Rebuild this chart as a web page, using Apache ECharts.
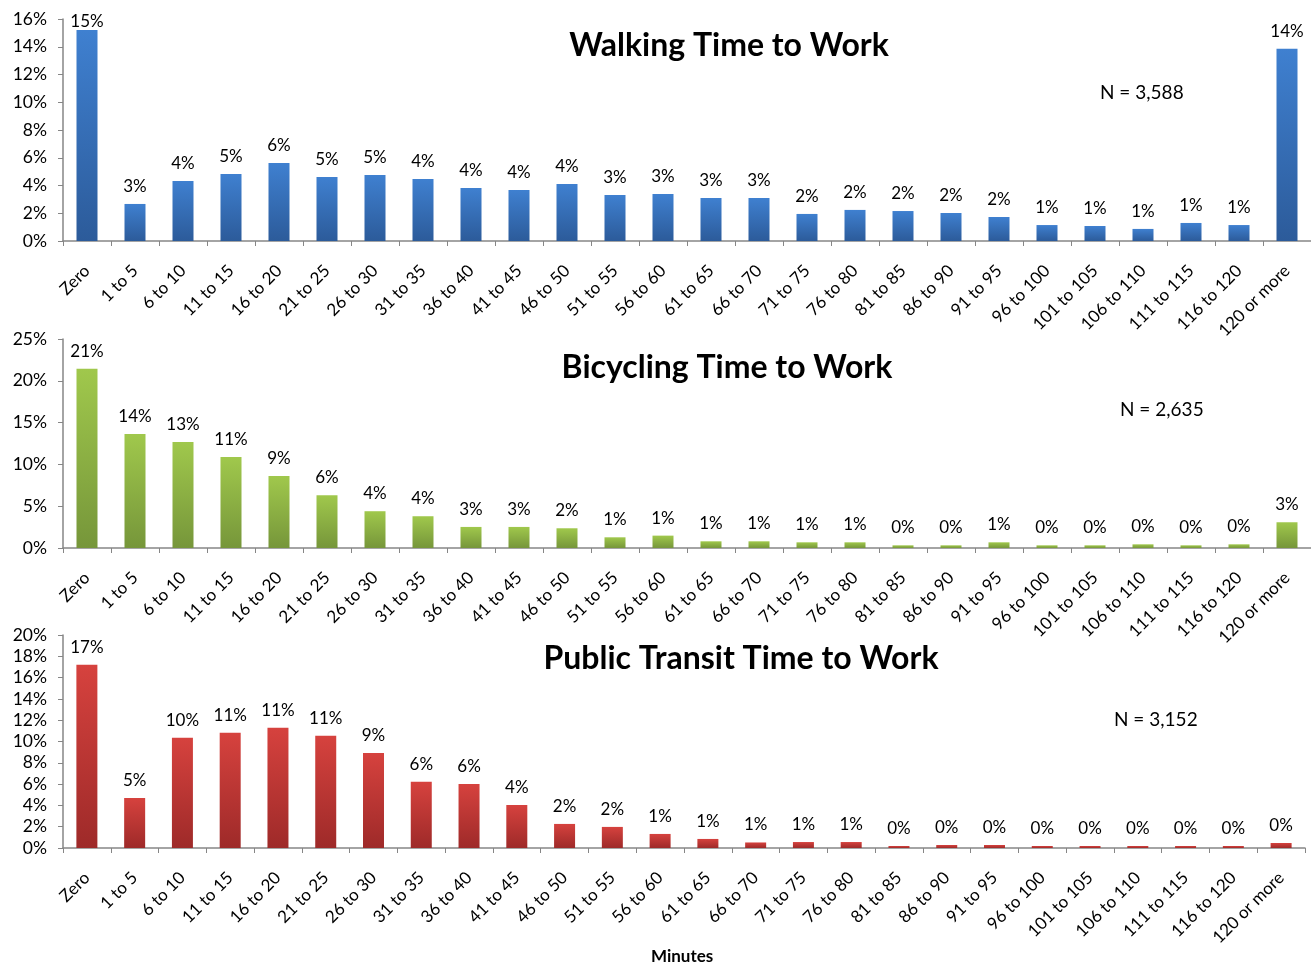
<!DOCTYPE html>
<html>
<head>
<meta charset="utf-8">
<script src="https://cdn.jsdelivr.net/npm/echarts@6/dist/echarts.min.js"></script>
<style>
  html, body { margin: 0; padding: 0; background: #fff; }
  #chart { width: 1311px; height: 963px; }
</style>
</head>
<body>
<div id="chart"></div>
<script>
// categories (minutes)
var categories = ['Zero', '1 to 5', '6 to 10', '11 to 15', '16 to 20', '21 to 25', '26 to 30',
  '31 to 35', '36 to 40', '41 to 45', '46 to 50', '51 to 55', '56 to 60', '61 to 65',
  '66 to 70', '71 to 75', '76 to 80', '81 to 85', '86 to 90', '91 to 95', '96 to 100',
  '101 to 105', '106 to 110', '111 to 115', '116 to 120', '120 or more'];

// percent of respondents
var walking = [15.2, 2.67, 4.33, 4.83, 5.63, 4.62, 4.76, 4.47, 3.82, 3.68, 4.11, 3.32, 3.39,
  3.10, 3.10, 1.95, 2.24, 2.16, 2.02, 1.73, 1.15, 1.08, 0.87, 1.30, 1.15, 13.85];
var bicycling = [21.45, 13.64, 12.68, 10.88, 8.60, 6.32, 4.40, 3.80, 2.52, 2.52, 2.36, 1.28, 1.48,
  0.80, 0.80, 0.68, 0.68, 0.32, 0.32, 0.68, 0.32, 0.32, 0.44, 0.32, 0.44, 3.08];
var transit = [17.21, 4.70, 10.35, 10.82, 11.29, 10.53, 8.93, 6.21, 6.02, 4.04, 2.26, 1.98, 1.32,
  0.85, 0.52, 0.56, 0.56, 0.19, 0.28, 0.28, 0.19, 0.19, 0.19, 0.19, 0.19, 0.47];

var titles = ['Walking Time to Work', 'Bicycling Time to Work', 'Public Transit Time to Work'];
var sampleSizes = ['N = 3,588', 'N = 2,635', 'N = 3,152'];
var yMax = [16, 25, 20];
var yStep = [2, 5, 2];

var chart = echarts.init(document.getElementById('chart'));
var font = 'Lato, "Open Sans", sans-serif';

var grids = [
  { left: 63, top: 19, width: 1257, height: 222 },
  { left: 63, top: 339, width: 1257, height: 209 },
  { left: 63, top: 635, width: 1242, height: 213 }
];

var colors = [
  ['#3f80d0', '#2c5b9a'],
  ['#a0c84c', '#76963a'],
  ['#d6423e', '#9e2a29']
];

var seriesData = [walking, bicycling, transit];
var titleStyle = { fontFamily: font, fontSize: 32, fontWeight: 'bold', color: '#000' };

var option = {
  backgroundColor: '#fff',
  animation: false,
  textStyle: { fontFamily: font },
  title: [
    { text: titles[0], left: 724, top: 25, textAlign: 'center', textStyle: titleStyle },
    { text: titles[1], left: 722, top: 347, textAlign: 'center', textStyle: titleStyle },
    { text: titles[2], left: 736, top: 638, textAlign: 'center', textStyle: titleStyle }
  ],
  graphic: [
    { type: 'text', left: 1100, top: 83, style: { text: sampleSizes[0], font: '19px ' + font, fill: '#000' } },
    { type: 'text', left: 1120, top: 400, style: { text: sampleSizes[1], font: '19px ' + font, fill: '#000' } },
    { type: 'text', left: 1114, top: 710, style: { text: sampleSizes[2], font: '19px ' + font, fill: '#000' } },
    { type: 'text', left: 651, top: 948, style: { text: 'Minutes', font: 'bold 17px ' + font, fill: '#000' } }
  ],
  grid: grids,
  xAxis: [0, 1, 2].map(function (i) {
    return {
      type: 'category',
      gridIndex: i,
      data: categories,
      axisLine: { lineStyle: { color: '#868686', width: 1.5 } },
      axisTick: { show: true, length: 5, lineStyle: { color: '#868686' } },
      axisLabel: { interval: 0, rotate: 45, margin: 27, fontSize: 17, color: '#000', fontFamily: font }
    };
  }),
  yAxis: [0, 1, 2].map(function (i) {
    return {
      type: 'value',
      gridIndex: i,
      min: 0,
      max: yMax[i],
      interval: yStep[i],
      splitLine: { show: false },
      axisLine: { show: true, lineStyle: { color: '#868686', width: 1.5 } },
      axisTick: { show: true, length: 5, lineStyle: { color: '#868686' } },
      axisLabel: { formatter: '{value}%', fontSize: 17.5, color: '#000', margin: 16, fontFamily: font }
    };
  }),
  series: [0, 1, 2].map(function (i) {
    return {
      type: 'bar',
      xAxisIndex: i,
      yAxisIndex: i,
      // the tallest walking label sits against the plot top, as in the original
      data: seriesData[i].map(function (v, j) {
        return (i === 0 && j === 0) ? { value: v, label: { distance: 0 } } : v;
      }),
      barWidth: 21,
      itemStyle: {
        color: new echarts.graphic.LinearGradient(0, 0, 0, 1, [
          { offset: 0, color: colors[i][0] },
          { offset: 1, color: colors[i][1] }
        ])
      },
      label: {
        show: true,
        position: 'top',
        distance: 9,
        fontSize: 17,
        color: '#000',
        fontFamily: font,
        formatter: function (p) { return Math.round(p.value) + '%'; }
      }
    };
  })
};

chart.setOption(option);
</script>
</body>
</html>
